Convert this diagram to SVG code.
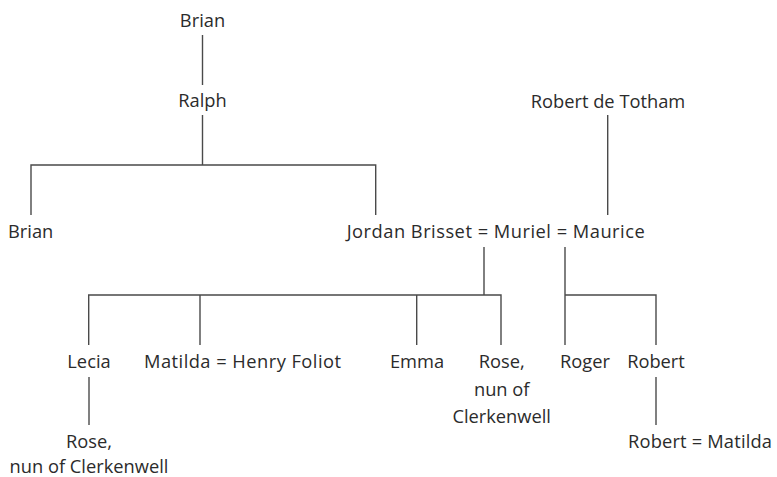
<svg xmlns="http://www.w3.org/2000/svg" width="777" height="477" viewBox="0 0 777 477">
<style>
text{font-family:"Open Sans","Liberation Sans",sans-serif;font-size:18.3px;fill:#2b2b2b}
.m{text-anchor:middle}
.c{fill:none;stroke:#4a4a4a;stroke-width:1.4}
</style>
<rect width="777" height="477" fill="#fff"/>
<g id="connectors" class="c">
<path d="M202.5 35V85"/>
<path d="M202.5 115V165M31 215V165H375.7V215"/>
<path d="M607.7 115V215"/>
<path d="M484 247V295M88.7 345V295H501V345M200 295V345M416.7 295V345"/>
<path d="M565 247V345M565 295H656V345"/>
<path d="M89 377V425"/>
<path d="M656 377V425"/>
</g>
<g id="n-brian-top"><text class="m" x="202.5" y="27">Brian</text></g>
<g id="n-ralph"><text class="m" x="202.5" y="107">Ralph</text></g>
<g id="n-robert-de-totham"><text class="m" x="608" y="108">Robert de Totham</text></g>
<g id="n-brian"><text class="m" x="30.7" y="237.5">Brian</text></g>
<g id="n-jordan-muriel-maurice"><text x="346.7" y="238" textLength="298" lengthAdjust="spacing">Jordan Brisset = Muriel = Maurice</text></g>
<g id="n-lecia"><text class="m" x="89" y="368">Lecia</text></g>
<g id="n-matilda-henry"><text x="144" y="368" textLength="197" lengthAdjust="spacing">Matilda = Henry Foliot</text></g>
<g id="n-emma"><text class="m" x="417" y="368">Emma</text></g>
<g id="n-rose-nun"><text class="m" x="501.7" y="368">Rose,</text><text class="m" x="501.7" y="395.5">nun of</text><text class="m" x="501.7" y="423">Clerkenwell</text></g>
<g id="n-roger"><text x="560" y="368">Roger</text></g>
<g id="n-robert"><text class="m" x="656" y="368">Robert</text></g>
<g id="n-rose-lecia"><text class="m" x="89" y="448">Rose,</text><text class="m" x="89" y="472.5">nun of Clerkenwell</text></g>
<g id="n-robert-matilda"><text x="628" y="447.7" textLength="144" lengthAdjust="spacing">Robert = Matilda</text></g>
</svg>
